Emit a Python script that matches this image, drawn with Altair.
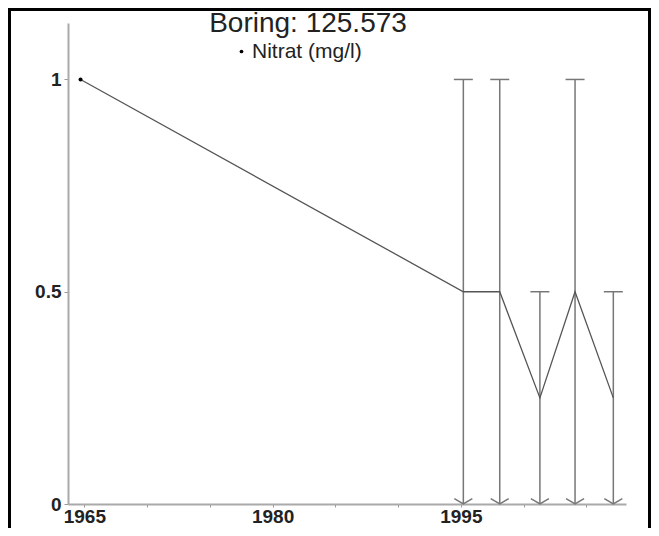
import altair as alt
import pandas as pd

# ---- data ----
years = [1964.7, 1995.2, 1998.1, 2001.3, 2004.1, 2007.15]
nitrat = [1.0, 0.5, 0.5, 0.25, 0.5, 0.25]
measured = [True, False, False, False, False, False]
bar_years = [1995.2, 1998.1, 2001.3, 2004.1, 2007.15]
bar_upper = [1.0, 1.0, 0.5, 1.0, 0.5]
bar_lower = [0.0, 0.0, 0.0, 0.0, 0.0]
x_ticks = [1965, 1970, 1975, 1980, 1985, 1990, 1995, 2000, 2005]
y_ticks = [0, 0.5, 1]
series_name = "Nitrat (mg/l)"
chart_title = "Boring: 125.573"

FONT = "Liberation Sans"
W, H = 558, 481

line_df = pd.DataFrame({"year": years, "value": nitrat, "measured": measured,
                        "series": [series_name] * len(years)})
dot_df = line_df[line_df["measured"]]
bar_df = pd.DataFrame({"year": bar_years, "upper": bar_upper, "lower": bar_lower})

x_scale = alt.Scale(domain=[1963.7, 2008.16], nice=False, zero=False)
y_scale = alt.Scale(domain=[0, 1.133], nice=False)

x_axis = alt.Axis(values=x_ticks, format="d",
                  labelExpr="(datum.value - 1965) % 15 == 0 ? datum.label : ''",
                  title=None, grid=False, domainColor="#aaaaaa", domainWidth=2,
                  tickColor="#999999", tickSize=3, tickWidth=1, labelPadding=0,
                  labelFont=FONT, labelFontSize=19, labelFontWeight="bold",
                  labelColor="#222222")
y_axis = alt.Axis(values=y_ticks, format="~g", title=None, grid=False,
                  domainColor="#aaaaaa", domainWidth=2, tickColor="#999999",
                  tickSize=4, tickWidth=1, labelPadding=3, labelFont=FONT,
                  labelFontSize=19, labelFontWeight="bold", labelColor="#222222")

X = lambda f: alt.X(f"{f}:Q", scale=x_scale, axis=x_axis)
Y = lambda f: alt.Y(f"{f}:Q", scale=y_scale, axis=y_axis)

frame = alt.Chart(pd.DataFrame({"a": [0]})).mark_rect(
    fill=None, stroke="black", strokeWidth=3
).encode(x=alt.value(-58.5), x2=alt.value(W + 23.5),
         y=alt.value(-13.5), y2=alt.value(H + 80))

line = alt.Chart(line_df).mark_line(color="#555555", strokeWidth=1.3).encode(
    x=X("year"), y=Y("value"))

bars = alt.Chart(bar_df).mark_rule(color="#777777", strokeWidth=1.5).encode(
    x=X("year"), y=Y("lower"), y2="upper")

caps = alt.Chart(bar_df).mark_point(
    shape="M -1 0 L 1 0", size=361, filled=False, color="#777777",
    strokeWidth=1.5, opacity=1).encode(x=X("year"), y=Y("upper"))

arrows = alt.Chart(bar_df).mark_point(
    shape="M -1 -0.6 L 0 0 L 1 -0.6", size=324, filled=False, color="#777777",
    strokeWidth=1.5, opacity=1).encode(x=X("year"), y=Y("lower"))

dots = alt.Chart(dot_df).mark_point(filled=True, size=16, opacity=1).encode(
    x=X("year"), y=Y("value"),
    color=alt.Color("series:N",
                    scale=alt.Scale(domain=[series_name], range=["black"]),
                    legend=alt.Legend(orient="none", legendX=153, legendY=18,
                                      title=None, labelFont=FONT,
                                      labelFontSize=21, labelColor="#222222",
                                      symbolType="circle", symbolSize=14,
                                      symbolOffset=10, labelOffset=0,
                                      padding=0)))

chart = alt.layer(frame, bars, caps, arrows, line, dots).properties(
    width=W, height=H,
    title=alt.TitleParams(text=chart_title, font=FONT, fontSize=28,
                          fontWeight="normal", color="#222222",
                          anchor="middle", dx=-39, dy=30, offset=0),
    autosize=alt.AutoSizeParams(type="none"),
    padding={"left": 60, "top": 15, "right": 25, "bottom": 24},
).configure_view(stroke=None)

chart.save("out.html", embed_options={"renderer": "svg", "actions": False})
